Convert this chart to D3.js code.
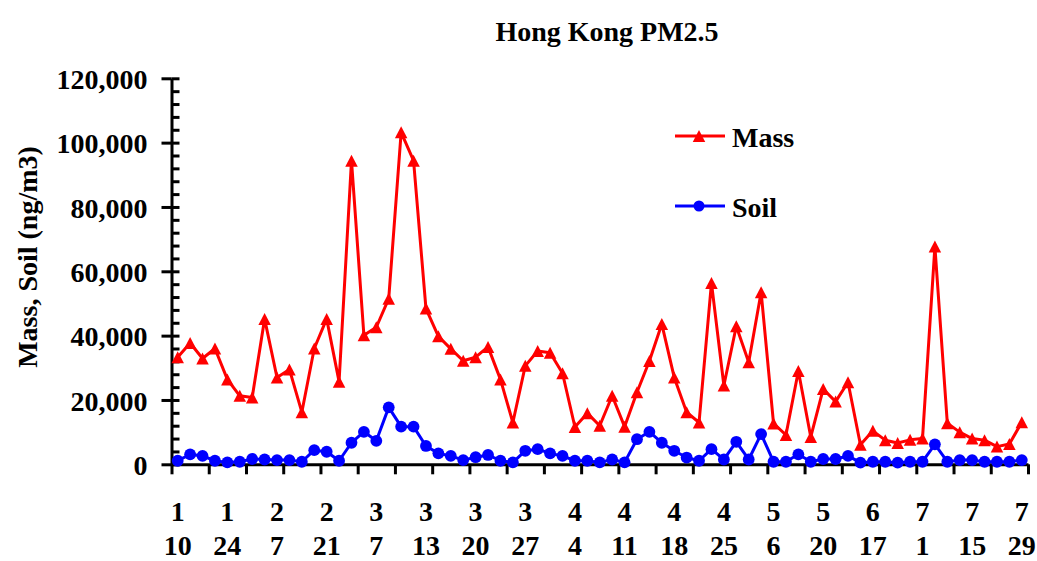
<!DOCTYPE html>
<html>
<head>
<meta charset="utf-8">
<script src="https://cdn.jsdelivr.net/npm/d3@7"></script>
<style>
  html, body { margin: 0; padding: 0; background: #fff; }
  svg { display: block; }
  text { font-family: "Liberation Serif", "Times New Roman", serif; font-weight: bold; fill: #000; }
</style>
</head>
<body>
<svg id="chart" width="1037" height="561"></svg>
<script>
// ---- data ----
const title = "Hong Kong PM2.5";
const yAxisTitle = "Mass, Soil (ng/m3)";
const seriesNames = ["Mass", "Soil"];
const massValues = [33300, 37700, 32900, 36000, 26400, 21300, 20800, 45200, 27000, 29500, 16200, 36000,
  45200, 25700, 94400, 40100, 42600, 51500, 103200, 94400, 48400, 39800, 35900, 32200,
  33300, 36500, 26400, 13000, 30600, 35200, 34700, 28300, 11600, 15900, 12000,
  21300, 11700, 22400, 32100, 43600, 27000, 16200, 13000, 56400, 24500, 42900, 31700,
  53500, 12700, 9100, 29000, 8500, 23400, 19500, 25500, 6100, 10400, 7500, 6600,
  7600, 8000, 67700, 12800, 10000, 8000, 7500, 5500, 6300, 13100];
const soilValues = [1100, 3100, 2600, 1100, 600, 800, 1650, 1500, 1300, 1300, 800, 4400,
  3900, 1100, 6700, 10100, 7300, 17700, 11700, 11700, 5700, 3400, 2600, 1300,
  2200, 2900, 1100, 600, 4200, 4700, 3400, 2600, 1100, 1100, 600,
  1500, 600, 7800, 10100, 6700, 4200, 2100, 1100, 4700, 1500, 7000, 1500,
  9400, 800, 800, 3100, 800, 1650, 1650, 2600, 500, 800, 800, 500,
  800, 800, 6200, 800, 1300, 1300, 800, 800, 800, 1300];
// labelled samples (every 4th sample): month / day
const tickMonths = ["1", "1", "2", "2", "3", "3", "3", "3", "4", "4", "4", "4", "5", "5", "6", "7", "7", "7"];
const tickDays   = ["10", "24", "7", "21", "7", "13", "20", "27", "4", "11", "18", "25", "6", "20", "17", "1", "15", "29"];
const yTickValues = [0, 20000, 40000, 60000, 80000, 100000, 120000];
const yMinorValues = d3.range(0, 120001, 4000);

// ---- layout ----
const svg = d3.select("#chart");
const mLeft = 171.5, mRight = 1028, mTop = 78.3, mBottom = 464.3;
const FS = 28;
const categories = d3.range(massValues.length);

const xBand = d3.scaleBand().domain(categories).range([mLeft, mRight]).padding(0);
const xCenter = i => xBand(i) + xBand.bandwidth() / 2;
const xEdge = d3.scaleLinear().domain([0, categories.length]).range([mLeft, mRight]);
const y = d3.scaleLinear().domain([0, 120000]).range([mBottom, mTop]);

// title
svg.append("text").attr("x", 607).attr("y", 41).attr("text-anchor", "middle")
  .style("font-size", FS + "px").text(title);

// y axis title
svg.append("text").attr("transform", "translate(37,257) rotate(-90)")
  .attr("text-anchor", "middle").style("font-size", FS + "px").text(yAxisTitle);

// y axis minor ticks (inside)
const yMinor = svg.append("g").attr("transform", `translate(${mLeft},0)`)
  .call(d3.axisRight(y).tickValues(yMinorValues).tickSize(8).tickFormat(""));
yMinor.select(".domain").remove();
yMinor.selectAll("line").attr("stroke", "#000").attr("stroke-width", 3);

// y axis major
const yAx = svg.append("g").attr("transform", `translate(${mLeft},0)`)
  .call(d3.axisLeft(y).tickValues(yTickValues).tickSize(10).tickPadding(14)
    .tickFormat(d3.format(",")).tickSizeOuter(0));
yAx.select(".domain").attr("stroke", "#000").attr("stroke-width", 3);
yAx.selectAll("line").attr("stroke", "#000").attr("stroke-width", 3);
yAx.selectAll("text").style("font-size", FS + "px")
  .style("font-family", '"Liberation Serif", "Times New Roman", serif')
  .style("font-weight", "bold").attr("dy", "0.36em");

// x axis
const xAx = svg.append("g").attr("transform", `translate(0,${mBottom})`)
  .call(d3.axisBottom(xEdge).tickValues(d3.range(0, categories.length + 1, 3))
    .tickSize(10).tickSizeOuter(0).tickFormat(""));
xAx.select(".domain").attr("stroke", "#000").attr("stroke-width", 3);
xAx.selectAll("line").attr("stroke", "#000").attr("stroke-width", 3);

// x labels: month / day on two rows
const labelIdx = tickMonths.map((m, k) => k * 4);
svg.append("g").selectAll("text.m").data(labelIdx).join("text")
  .attr("x", i => xCenter(i)).attr("y", 521).attr("text-anchor", "middle")
  .style("font-size", FS + "px").text((i, k) => tickMonths[k]);
svg.append("g").selectAll("text.d").data(labelIdx).join("text")
  .attr("x", i => xCenter(i)).attr("y", 555).attr("text-anchor", "middle")
  .style("font-size", FS + "px").text((i, k) => tickDays[k]);

// lines
const line = d3.line().x((d, i) => xCenter(i)).y(d => y(d));
svg.append("path").datum(massValues).attr("d", line)
  .attr("fill", "none").attr("stroke", "#ff0000").attr("stroke-width", 3).attr("stroke-linejoin", "round");
svg.append("path").datum(soilValues).attr("d", line)
  .attr("fill", "none").attr("stroke", "#0000ff").attr("stroke-width", 3).attr("stroke-linejoin", "round");

// markers
const triW = 12.5, triH = 12;
const triPath = `M0,${-triH/2}L${triW/2},${triH/2}L${-triW/2},${triH/2}Z`;
svg.append("g").selectAll("path").data(massValues).join("path")
  .attr("d", triPath).attr("transform", (d, i) => `translate(${xCenter(i)},${y(d)})`)
  .attr("fill", "#ff0000");
svg.append("g").selectAll("circle").data(soilValues).join("circle")
  .attr("cx", (d, i) => xCenter(i)).attr("cy", d => y(d)).attr("r", 5.9)
  .attr("fill", "#0000ff");

// legend
const legend = [
  { name: seriesNames[0], color: "#ff0000", y: 136, ty: 147, marker: "tri" },
  { name: seriesNames[1], color: "#0000ff", y: 206, ty: 217, marker: "circ" }
];
legend.forEach(l => {
  svg.append("line").attr("x1", 675).attr("x2", 725).attr("y1", l.y).attr("y2", l.y)
    .attr("stroke", l.color).attr("stroke-width", 3);
  if (l.marker === "tri") {
    svg.append("path").attr("d", triPath).attr("transform", `translate(699,${l.y})`).attr("fill", l.color);
  } else {
    svg.append("circle").attr("cx", 699).attr("cy", l.y).attr("r", 5.5).attr("fill", l.color);
  }
  svg.append("text").attr("x", 732).attr("y", l.ty).style("font-size", FS + "px").text(l.name);
});
</script>
</body>
</html>
